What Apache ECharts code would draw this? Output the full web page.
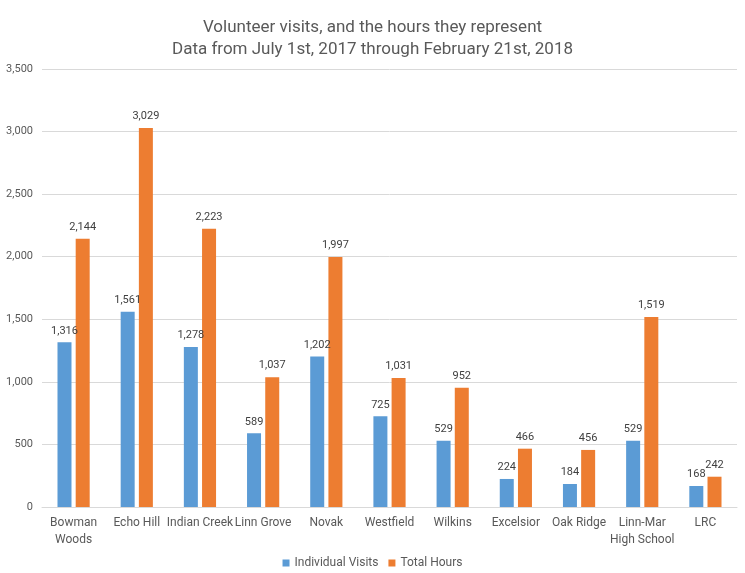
<!DOCTYPE html>
<html><head><meta charset="utf-8">
<script src="https://cdn.jsdelivr.net/npm/echarts@6/dist/echarts.min.js"></script>
<style>html,body{margin:0;padding:0;background:#fff}#c{width:745px;height:573px}</style>
</head><body><div id="c"></div>
<script>
const categories = ['Bowman\nWoods','Echo Hill','Indian Creek','Linn Grove','Novak','Westfield','Wilkins','Excelsior','Oak Ridge','Linn-Mar\nHigh School','LRC'];
const individualVisits = [1316,1561,1278,589,1202,725,529,224,184,529,168];
const totalHours = [2144,3029,2223,1037,1997,1031,952,466,456,1519,242];
const titleLines = ['Volunteer visits, and the hours they represent','Data from July 1st, 2017 through February 21st, 2018'];
const F = "'Liberation Sans Narrow','Roboto','Liberation Sans',sans-serif";
const fmt = v => v.toLocaleString('en-US');
const chart = echarts.init(document.getElementById('c'));
chart.setOption({
  animation:false,
  title:{text:titleLines.join('\n'),left:'center',top:12,textStyle:{fontFamily:F,fontSize:17,fontWeight:'normal',color:'#595959',lineHeight:22}},
  grid:{left:42,right:8,top:69,bottom:66},
  legend:{bottom:-1,left:'center',itemWidth:7,itemHeight:7,itemGap:10,icon:'rect',textStyle:{fontFamily:F,fontSize:12,color:'#595959'},data:['Individual Visits','Total Hours']},
  xAxis:{type:'category',data:categories,axisTick:{show:false},axisLine:{lineStyle:{color:'#d9d9d9'}},
    axisLabel:{interval:0,fontFamily:F,fontSize:12,color:'#595959',lineHeight:17,margin:7}},
  yAxis:{type:'value',min:0,max:3500,interval:500,axisLine:{show:false},axisTick:{show:false},
    splitLine:{lineStyle:{color:'#d9d9d9'}},
    axisLabel:{fontFamily:F,fontSize:11,color:'#595959',margin:9,formatter:fmt}},
  series:[
    {name:'Individual Visits',type:'bar',data:individualVisits,barWidth:14,barGap:'30%',itemStyle:{color:'#5B9BD5'},
      label:{show:true,position:'top',distance:6,fontFamily:F,fontSize:11,color:'#404040',formatter:p=>fmt(p.value)}},
    {name:'Total Hours',type:'bar',data:totalHours,barWidth:14,itemStyle:{color:'#ED7D31'},
      label:{show:true,position:'top',distance:6,fontFamily:F,fontSize:11,color:'#404040',formatter:p=>fmt(p.value)}}
  ]
});
</script></body></html>
